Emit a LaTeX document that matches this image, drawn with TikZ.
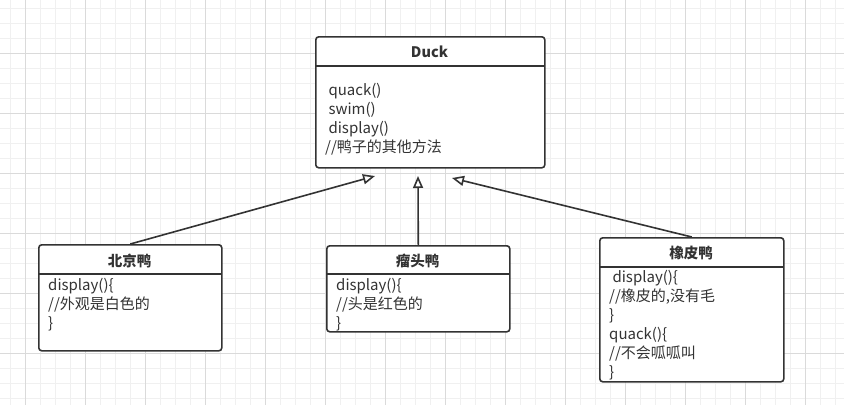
\documentclass[tikz,border=0pt]{standalone}
\usepackage{fontspec}
\setmainfont{Noto Sans CJK SC}
\usetikzlibrary{arrows.meta}
\usetikzlibrary{positioning}
\usepackage{xcolor}
\definecolor{linegray}{HTML}{333333}
\definecolor{gridminor}{HTML}{F0F0F0}
\definecolor{gridmajor}{HTML}{DADADA}

\tikzset{
  classbox/.style={draw=linegray, line width=1.6pt, rounded corners=3pt, fill=white, anchor=north west, inner sep=0pt},
  classname/.style={font=\fontsize{14.5}{17}\selectfont\bfseries, text=linegray},
  members/.style={font=\fontsize{15}{19}\selectfont, align=left, anchor=north west, inner sep=0pt, text=linegray},
  divider/.style={draw=linegray, line width=1.6pt},
  inherit/.style={draw=linegray, line width=1.6pt, -{Triangle[open, length=12pt, width=10pt, fill=white]}}
}

\begin{document}
\begin{tikzpicture}[x=1pt,y=-1pt]
\useasboundingbox (0,0) rectangle (844,405);
\fill[white] (0,0) rectangle (844,405);
\foreach \gx in {10,25,...,844} \draw[gridminor, line width=0.8pt] (\gx,0) -- (\gx,405);
\foreach \gy in {8,23,...,405} \draw[gridminor, line width=0.8pt] (0,\gy) -- (844,\gy);
\foreach \gx in {25,85,...,844} \draw[gridmajor, line width=0.8pt] (\gx,0) -- (\gx,405);
\foreach \gy in {53,113,...,405} \draw[gridmajor, line width=0.8pt] (0,\gy) -- (844,\gy);

\node[classbox, minimum width=229, minimum height=131] (duck) at (315,36) {};
\node[classbox, minimum width=183, minimum height=106] (bj) at (38,244) {};
\node[classbox, minimum width=183, minimum height=86] (lt) at (326,245) {};
\node[classbox, minimum width=184, minimum height=144] (xp) at (599,237) {};

\draw[divider] (315,66) -- (544,66);
\draw[divider] (38,274) -- (221,274);
\draw[divider] (326,274) -- (509,274);
\draw[divider] (599,267) -- (783,267);

\node[classname] (ducktitle) at (429.5,52) {Duck};
\node[classname] (bjtitle) at (129.5,261) {北京鸭};
\node[classname] (lttitle) at (417.5,261) {瘤头鸭};
\node[classname] (xptitle) at (691,253) {橡皮鸭};

\node[members] (duckbody) at (325,83) {\ quack()\\\ swim()\\\ display()\\//鸭子的其他方法};
\node[members] (bjbody) at (48,278) {display()\{\\//外观是白色的\\\}};
\node[members] (ltbody) at (336,278) {display()\{\\//头是红色的\\\}};
\node[members] (xpbody) at (609,270) {\ display()\{\\//橡皮的,没有毛\\\}\\quack()\{\\//不会呱呱叫\\\}};

\coordinate (tipbj) at (375,176);
\coordinate (tiplt) at (418,176);
\coordinate (tipxp) at (452,178);

\draw[inherit] (bj.north) -- (tipbj);
\draw[inherit] (lt.north) -- (tiplt);
\draw[inherit] (xp.north) -- (tipxp);

\end{tikzpicture}
\end{document}
